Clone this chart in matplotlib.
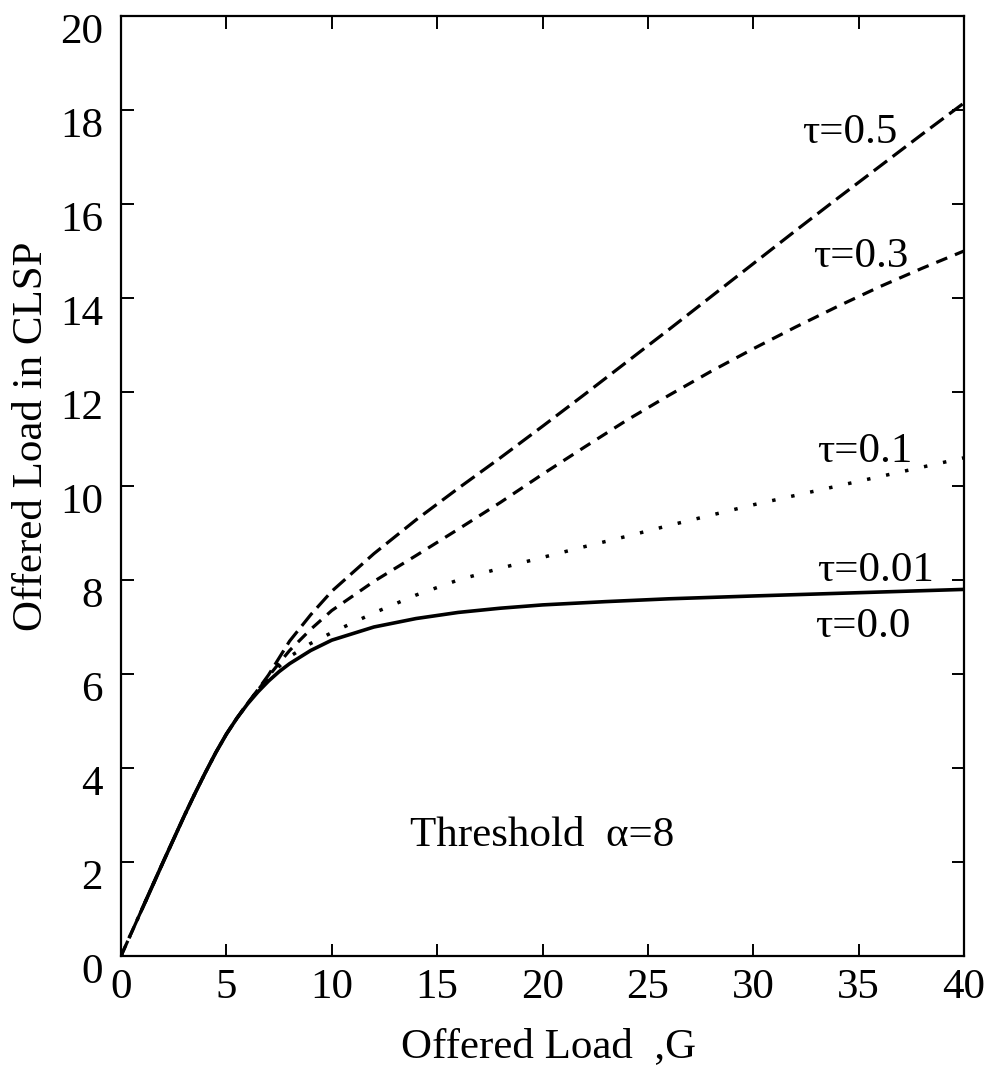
import matplotlib
matplotlib.use("Agg")
import matplotlib.pyplot as plt
from matplotlib.transforms import ScaledTranslation

# Offered load G
g_full = [0, 1, 2, 3, 3.5, 4, 4.5, 5, 5.5, 6, 6.5, 7, 7.5, 8, 9, 10, 12, 14,
          16, 18, 20, 22, 24, 26, 28, 30, 32, 34, 36, 38, 40]

# tau = 0.0 / 0.01 (solid, the two coincide)
g_solid = [1, 2, 3, 3.5, 4, 4.5, 5, 5.5, 6, 6.5, 7, 7.5, 8, 9, 10, 12, 14, 16,
           18, 20, 23, 26, 30, 35, 40]
load_tau0 = [1.0, 2.0, 2.98, 3.45, 3.9, 4.33, 4.72, 5.06, 5.36, 5.62, 5.85,
             6.05, 6.22, 6.5, 6.72, 7.0, 7.18, 7.31, 7.4, 7.47, 7.54, 7.6,
             7.66, 7.73, 7.8]

# tau = 0.1 (dotted)
load_tau01 = [0, 1.0, 2.0, 2.98, 3.45, 3.9, 4.33, 4.72, 5.06, 5.37, 5.66,
              5.93, 6.16, 6.37, 6.65, 6.88, 7.3, 7.68, 8.0, 8.25, 8.48, 8.71,
              8.93, 9.16, 9.38, 9.6, 9.8, 10.0, 10.2, 10.4, 10.6]

# tau = 0.3 (short dashes)
load_tau03 = [0, 1.0, 2.0, 2.98, 3.45, 3.9, 4.33, 4.72, 5.06, 5.37, 5.66,
              5.95, 6.23, 6.5, 6.95, 7.35, 7.97, 8.52, 9.08, 9.65, 10.25,
              10.83, 11.4, 11.93, 12.44, 12.92, 13.38, 13.82, 14.24, 14.63,
              15.0]

# tau = 0.5 (long dashes)
load_tau05 = [0, 1.0, 2.0, 2.98, 3.45, 3.9, 4.33, 4.72, 5.06, 5.37, 5.67,
              5.98, 6.34, 6.7, 7.26, 7.76, 8.56, 9.28, 9.95, 10.6, 11.27,
              11.95, 12.64, 13.33, 14.03, 14.73, 15.43, 16.12, 16.8, 17.48,
              18.15]

x_ticks = [0, 5, 10, 15, 20, 25, 30, 35, 40]
y_ticks = [0, 2, 4, 6, 8, 10, 12, 14, 16, 18, 20]

plt.rcParams["font.family"] = ["Liberation Serif", "DejaVu Serif"]
plt.rcParams["lines.scale_dashes"] = False

W, H = 993, 1067
fig = plt.figure(figsize=(W / 100, H / 100), dpi=100)
ax = fig.add_axes([121 / W, 111 / H, 843 / W, 940 / H])

ax.plot(g_full, load_tau05, color="black", lw=2.3, dashes=(12, 5))
ax.plot(g_full, load_tau03, color="black", lw=2.3, dashes=(8.5, 6))
ax.plot(g_full, load_tau01, color="black", lw=2.5, dashes=(2.5, 11.5))
ax.plot(g_solid, load_tau0, color="black", lw=2.6, solid_capstyle="round",
        solid_joinstyle="round")

ax.set_xlim(0, 40)
ax.set_ylim(0, 20)
for s in ax.spines.values():
    s.set_linewidth(1.6)

ax.tick_params(direction="in", length=9, width=1.4, top=True, right=True,
               labelsize=31)
ax.tick_params(axis="x", pad=9)
ax.tick_params(axis="y", pad=13)
ax.set_xticks(x_ticks)
ax.set_yticks(y_ticks)
ax.set_xticklabels([str(v) for v in x_ticks])
ax.set_yticklabels([str(v) for v in y_ticks])

# y tick numbers sit a little below their tick marks
shift = ScaledTranslation(0, -12 / 100, fig.dpi_scale_trans)
for t in ax.yaxis.get_major_ticks():
    t.label1.set_transform(t.label1.get_transform() + shift)

fs = 31
ax.text(32.3, 17.3, "τ=0.5", fontsize=fs, va="baseline", ha="left")
ax.text(32.85, 14.66, "τ=0.3", fontsize=fs, va="baseline", ha="left")
ax.text(33.05, 10.51, "τ=0.1", fontsize=fs, va="baseline", ha="left")
ax.text(33.05, 7.98, "τ=0.01", fontsize=fs, va="baseline", ha="left")
ax.text(32.95, 6.79, "τ=0.0", fontsize=fs, va="baseline", ha="left")
ax.text(13.7, 2.34, "Threshold  α=8", fontsize=fs, va="baseline", ha="left")

fig.text(549 / W, 1 - 1057 / H, "Offered Load  ,G", fontsize=fs,
         ha="center", va="baseline")
fig.text(42 / W, 1 - 436 / H, "Offered Load in CLSP", fontsize=fs,
         rotation=90, rotation_mode="anchor", ha="center", va="baseline")

fig.savefig("out.png", dpi=100)
